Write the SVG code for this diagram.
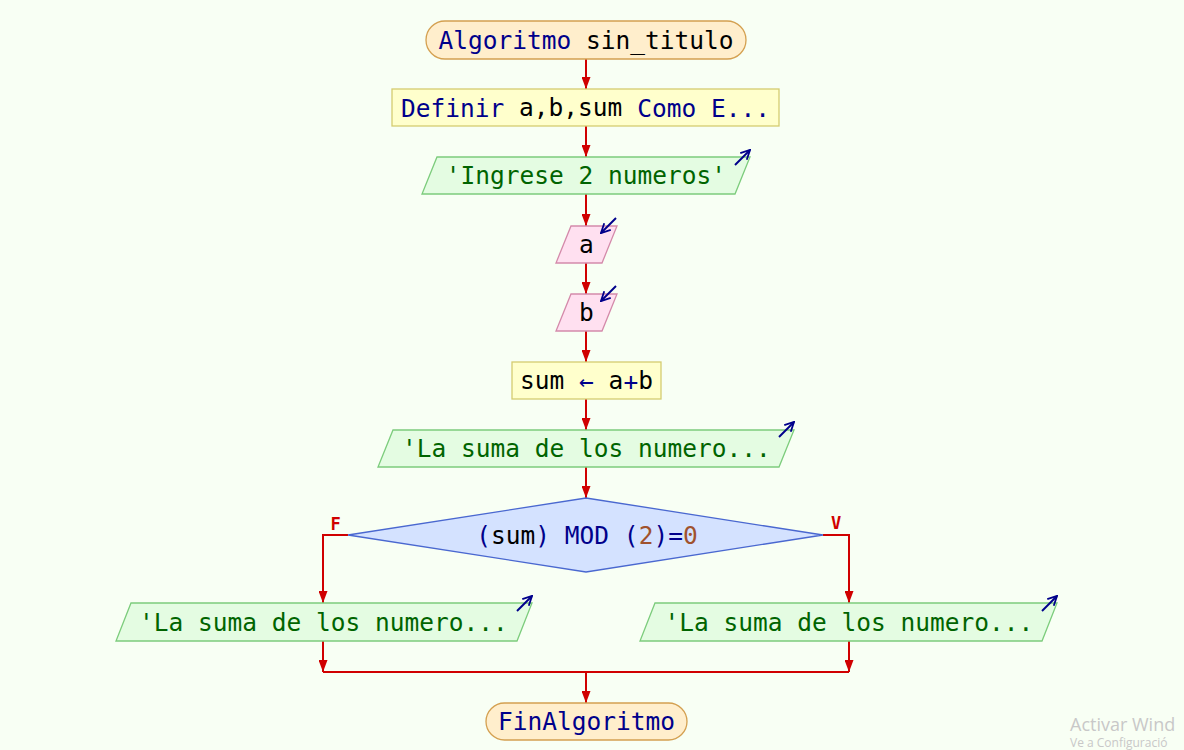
<svg xmlns="http://www.w3.org/2000/svg" width="1184" height="750" viewBox="0 0 1184 750">
<style>
.t{font-family:"DejaVu Sans Mono","Liberation Mono",monospace;font-size:24.5px;text-anchor:middle;dominant-baseline:central;fill:#000}
.k{fill:#00008b}
.s{fill:#006400}
.n{fill:#a0522d}
.term{fill:#ffeecc;stroke:#d4a050;stroke-width:1.3}
.proc{fill:#ffffcc;stroke:#d4cc70;stroke-width:1.3}
.out{fill:#e4fce2;stroke:#7ccc7c;stroke-width:1.3}
.inp{fill:#ffe0f0;stroke:#d48aaa;stroke-width:1.3}
.dec{fill:#d4e2ff;stroke:#4a68d0;stroke-width:1.3}
.ic{fill:none;stroke:#00008b;stroke-width:2}
.c{fill:none;stroke:#d00000;stroke-width:2}
.lbl{font-family:"DejaVu Sans Mono",monospace;font-size:17px;font-weight:bold;fill:#d00000;text-anchor:middle}
.wm{font-family:"Open Sans","Noto Sans",sans-serif;fill:#c8c8c8}
</style>
<defs>
<marker id="ah" viewBox="0 0 12 9" refX="12" refY="4.5" markerWidth="12" markerHeight="9" markerUnits="userSpaceOnUse" orient="auto">
<path d="M0,0 L12,4.5 L0,9 Z" fill="#d00000"/>
</marker>
<marker id="ih" viewBox="0 0 12 12" refX="11" refY="6" markerWidth="11" markerHeight="11" markerUnits="userSpaceOnUse" orient="auto">
<path d="M1,1 L11,6 L1,11" fill="none" stroke="#00008b" stroke-width="2"/>
</marker>
</defs>
<rect width="1184" height="750" fill="#f8fff4"/>

<g id="connectors">
<line class="c" x1="586" y1="59" x2="586" y2="89" marker-end="url(#ah)"/>
<line class="c" x1="586" y1="126" x2="586" y2="157" marker-end="url(#ah)"/>
<line class="c" x1="586" y1="194" x2="586" y2="226" marker-end="url(#ah)"/>
<line class="c" x1="586" y1="263" x2="586" y2="294" marker-end="url(#ah)"/>
<line class="c" x1="586" y1="331" x2="586" y2="362" marker-end="url(#ah)"/>
<line class="c" x1="586" y1="399" x2="586" y2="430" marker-end="url(#ah)"/>
<line class="c" x1="586" y1="467" x2="586" y2="498" marker-end="url(#ah)"/>
<polyline class="c" points="348,535 323,535 323,603" marker-end="url(#ah)"/>
<polyline class="c" points="823,535 849,535 849,603" marker-end="url(#ah)"/>
<line class="c" x1="323" y1="641" x2="323" y2="672" marker-end="url(#ah)"/>
<line class="c" x1="849" y1="641" x2="849" y2="672" marker-end="url(#ah)"/>
<line class="c" x1="323" y1="672" x2="849" y2="672"/>
<line class="c" x1="586" y1="672" x2="586" y2="703" marker-end="url(#ah)"/>
<text class="lbl" x="335.5" y="530">F</text>
<text class="lbl" x="836" y="529">V</text>
</g>

<g id="start">
<rect class="term" x="426" y="21" width="320" height="38" rx="19"/>
<text class="t" x="586" y="40"><tspan class="k">Algoritmo</tspan> sin_titulo</text>
</g>

<g id="define">
<rect class="proc" x="392" y="89" width="387" height="37"/>
<text class="t" x="585.5" y="107.5"><tspan class="k">Definir</tspan> a,b,sum <tspan class="k">Como E...</tspan></text>
</g>

<g id="out1">
<polygon class="out" points="437,157 750,157 735,194 422,194"/>
<text class="t s" x="586" y="175.5">'Ingrese 2 numeros'</text>
<line class="ic" x1="735" y1="165" x2="750" y2="150" marker-end="url(#ih)"/>
</g>

<g id="read_a">
<polygon class="inp" points="571,226 617,226 602,263 556,263"/>
<text class="t" x="586.5" y="244.5">a</text>
<line class="ic" x1="616" y1="218" x2="601" y2="233" marker-end="url(#ih)"/>
</g>

<g id="read_b">
<polygon class="inp" points="571,294 617,294 602,331 556,331"/>
<text class="t" x="586.5" y="312.5">b</text>
<line class="ic" x1="616" y1="286" x2="601" y2="301" marker-end="url(#ih)"/>
</g>

<g id="assign">
<rect class="proc" x="512" y="362" width="149" height="37"/>
<text class="t" x="586.5" y="380.5">sum <tspan class="k">←</tspan> a<tspan class="k">+</tspan>b</text>
</g>

<g id="out2">
<polygon class="out" points="393,430 794,430 779,467 378,467"/>
<text class="t s" x="586.5" y="448.5">'La suma de los numero...</text>
<line class="ic" x1="779" y1="437" x2="794" y2="422" marker-end="url(#ih)"/>
</g>

<g id="decision">
<polygon class="dec" points="586,498 823,535 586,572 348,535"/>
<text class="t" x="587" y="535"><tspan class="k">(</tspan>sum<tspan class="k">) MOD (</tspan><tspan class="n">2</tspan><tspan class="k">)=</tspan><tspan class="n">0</tspan></text>
</g>

<g id="out_f">
<polygon class="out" points="131,603 532,603 517,641 116,641"/>
<text class="t s" x="323.5" y="622">'La suma de los numero...</text>
<line class="ic" x1="517" y1="611" x2="532" y2="596" marker-end="url(#ih)"/>
</g>

<g id="out_v">
<polygon class="out" points="655,603 1057,603 1042,641 640,641"/>
<text class="t s" x="849" y="622">'La suma de los numero...</text>
<line class="ic" x1="1042" y1="611" x2="1057" y2="596" marker-end="url(#ih)"/>
</g>

<g id="end">
<rect class="term" x="486" y="703" width="201" height="37" rx="18.5"/>
<text class="t k" x="586.5" y="721.5">FinAlgoritmo</text>
</g>

<text class="wm" x="1070" y="731" font-size="18">Activar Wind</text>
<text class="wm" x="1070" y="747" font-size="12">Ve a Configuració</text>
</svg>
